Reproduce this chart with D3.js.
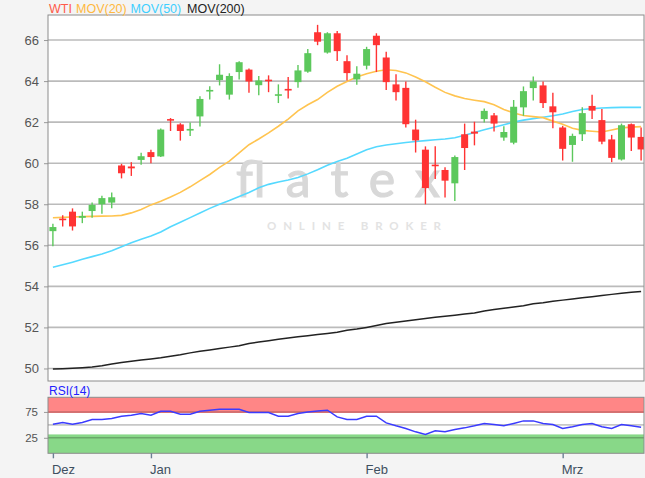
<!DOCTYPE html>
<html><head><meta charset="utf-8">
<script src="https://cdn.jsdelivr.net/npm/d3@7"></script>
<style>html,body{margin:0;padding:0;background:#f4f4f4;}svg{display:block;font-family:"Liberation Sans",Arial,sans-serif;}</style>
</head><body><svg id="c" width="645" height="478"></svg>
<script>
// ---- data ----
const opens  = [56.69,57.30,57.64,57.34,57.67,58.00,58.08,59.89,59.84,60.16,60.54,60.33,62.15,61.89,61.59,62.28,63.51,64.05,63.34,64.44,64.56,63.80,64.07,63.30,63.62,63.95,64.46,66.38,65.39,66.33,64.97,64.08,64.75,66.21,65.15,63.84,63.67,61.64,60.66,59.93,59.67,59.02,61.41,61.54,62.15,62.33,61.25,61.00,62.72,63.66,63.79,62.77,61.74,60.89,61.41,62.79,62.10,61.16,60.18,61.90,61.28];
const highs  = [57.05,57.46,57.80,57.64,58.08,58.41,58.57,59.97,60.05,60.51,60.66,61.69,62.20,61.95,61.98,63.26,63.75,64.82,64.38,64.97,64.61,64.25,64.28,63.84,64.20,64.79,65.56,66.74,66.38,66.44,65.26,64.72,65.67,66.33,65.43,64.33,63.98,62.12,60.82,60.82,59.80,60.38,61.93,62.02,62.66,62.44,61.80,63.08,63.74,64.23,63.98,63.43,61.82,61.44,62.72,63.33,62.64,61.38,61.93,61.93,61.74];
const lows   = [55.95,56.92,56.72,57.08,57.34,57.54,57.80,59.26,59.38,59.92,60.00,60.30,61.57,61.10,61.33,61.79,63.10,63.79,63.10,64.08,63.43,63.31,63.46,62.93,63.15,63.67,64.41,65.75,65.34,64.98,64.03,63.82,64.57,64.44,63.57,63.05,61.74,60.52,58.00,59.23,58.33,58.16,59.67,60.87,61.98,61.55,61.10,60.92,62.31,63.05,62.69,61.70,60.13,60.07,61.08,62.15,60.92,60.05,60.13,60.59,60.13];
const closes = [56.89,57.23,56.92,57.43,57.97,58.30,58.34,59.51,59.75,60.34,60.30,61.64,62.10,61.57,61.67,63.13,63.57,64.31,64.25,64.92,63.98,64.03,64.00,63.36,63.54,64.52,65.36,65.92,66.33,65.46,64.39,64.36,65.56,65.75,63.95,63.46,61.90,61.11,58.79,59.87,59.15,60.30,60.74,61.44,62.55,61.93,61.52,62.75,63.51,63.98,62.93,62.48,60.70,61.33,62.44,62.56,61.05,60.26,61.85,61.25,60.67];
const mov20  = [57.34,57.36,57.38,57.40,57.41,57.42,57.43,57.46,57.58,57.75,57.97,58.15,58.35,58.58,58.85,59.15,59.45,59.80,60.10,60.50,60.90,61.18,61.48,61.80,62.15,62.55,62.85,63.10,63.45,63.75,63.98,64.20,64.36,64.48,64.55,64.52,64.40,64.20,63.97,63.70,63.45,63.28,63.15,63.07,63.00,62.85,62.62,62.45,62.32,62.27,62.22,62.05,61.90,61.70,61.60,61.56,61.52,61.62,61.72,61.76,61.78];
const mov50  = [54.93,55.05,55.18,55.32,55.45,55.58,55.73,55.93,56.12,56.30,56.45,56.65,56.90,57.12,57.35,57.57,57.80,58.00,58.18,58.38,58.57,58.80,58.97,59.08,59.18,59.30,59.48,59.68,59.90,60.08,60.24,60.45,60.66,60.80,60.89,60.95,61.01,61.06,61.10,61.14,61.18,61.24,61.36,61.50,61.63,61.75,61.87,62.00,62.10,62.17,62.24,62.31,62.40,62.52,62.62,62.66,62.69,62.71,62.72,62.72,62.72];
const mov200 = [49.97,49.99,50.01,50.04,50.07,50.13,50.22,50.29,50.35,50.41,50.46,50.52,50.60,50.67,50.76,50.84,50.90,50.97,51.04,51.11,51.22,51.29,51.35,51.42,51.48,51.54,51.60,51.65,51.70,51.76,51.86,51.92,52.00,52.09,52.19,52.25,52.31,52.37,52.43,52.49,52.54,52.59,52.65,52.70,52.80,52.87,52.93,53.00,53.06,53.15,53.20,53.27,53.33,53.39,53.45,53.50,53.56,53.61,53.66,53.71,53.75];
const rsi14  = [51.3,54.6,51.3,54.6,60.3,60.3,62.3,66.7,68.6,71.9,68.6,76.3,76.3,70.6,70.6,76.3,78.3,80.2,80.2,80.2,73.8,73.8,73.8,66.7,66.7,71.9,75.0,76.9,78.3,65.4,60.4,60.4,66.7,66.7,53.8,48.1,43.0,36.5,31.5,38.5,36.5,41.2,44.2,48.1,52.7,50.5,48.1,52.7,57.7,57.7,52.7,50.5,43.0,46.3,50.5,52.7,46.3,43.0,50.5,48.1,45.6];
const monthLabels   = ["Dez","Jan","Feb","Mrz"];
const monthStartIdx = [0,10,32,52];
const priceTicks = [50,52,54,56,58,60,62,64,66];
const rsiLabelTicks = [25,75];
const rsiGridTicks  = [25,50,75];
const legendNames  = ["WTI","MOV(20)","MOV(50)","MOV(200)"];

// ---- layout ----
const svg = d3.select("#c");
const L = 48, R = 644, T = 15, B = 381;
const rT = 397.3, rB = 453.3;
const n = closes.length;
const idx = d3.range(n);

svg.append("rect").attr("width",645).attr("height",478).attr("fill","#f4f4f4");

const x = d3.scalePoint().domain(idx).range([52.9, 641.1]);
const bw = 7;
const y = d3.scaleLinear().domain([49.39, 67.22]).range([B, T]);
const yr = d3.scaleLinear().domain([-5, 103.3]).range([rB, rT]);

svg.append("defs").append("clipPath").attr("id","clipMain")
  .append("rect").attr("x",L).attr("y",T).attr("width",R-L).attr("height",B-T);

// main panel
svg.append("rect").attr("x",L).attr("y",T).attr("width",R-L).attr("height",B-T)
  .attr("fill","#fff");

// grid + left axis
const yAxis = d3.axisLeft(y).tickValues(priceTicks).tickSize(4).tickPadding(5);
const gy = svg.append("g").attr("transform",`translate(${L},0)`).call(yAxis);
gy.select(".domain").remove();
gy.selectAll(".tick line").attr("stroke","#999");
gy.selectAll(".tick text").attr("fill","#555").attr("font-size","13px")
  .attr("font-family","Liberation Sans, Arial, sans-serif");
svg.append("g").selectAll("line").data(priceTicks).join("line")
  .attr("x1",L).attr("x2",R).attr("y1",d=>y(d)).attr("y2",d=>y(d))
  .attr("stroke","#bbbbbb").attr("stroke-width",1.6);

// watermark
svg.append("text").attr("x",236).attr("y",197).text("flatex")
  .attr("font-family","Lato, sans-serif").attr("font-weight",400).attr("font-size","50px")
  .attr("textLength",204).attr("lengthAdjust","spacing")
  .attr("fill","#d8d8d8").attr("stroke","#d8d8d8").attr("stroke-width",1.2);
svg.append("text").attr("x",267).attr("y",230).text("ONLINE BROKER")
  .attr("font-family","Lato, sans-serif").attr("font-size","11.5px").attr("font-weight",700)
  .attr("textLength",174).attr("lengthAdjust","spacing").attr("fill","#e3e3e3");

const gMain = svg.append("g").attr("clip-path","url(#clipMain)");

// moving averages
const line = arr => d3.line().x((d,i)=>x(i)).y(d=>y(d)).curve(d3.curveLinear)(arr);
gMain.append("path").attr("d",line(mov200)).attr("fill","none").attr("stroke","#222").attr("stroke-width",1.5);
gMain.append("path").attr("d",line(mov50)).attr("fill","none").attr("stroke","#55d9ff").attr("stroke-width",1.6);
gMain.append("path").attr("d",line(mov20)).attr("fill","none").attr("stroke","#ffc450").attr("stroke-width",1.6);

// candles
const up = "#5cc85c", down = "#ff3333";
const cg = gMain.append("g").selectAll("g").data(idx).join("g");
cg.append("line").attr("x1",i=>x(i)).attr("x2",i=>x(i))
  .attr("y1",i=>y(highs[i])).attr("y2",i=>y(lows[i]))
  .attr("stroke",i=>closes[i]>=opens[i]?up:down).attr("stroke-width",1.4);
cg.append("rect").attr("x",i=>x(i)-bw/2).attr("width",bw)
  .attr("y",i=>y(Math.max(opens[i],closes[i])))
  .attr("height",i=>Math.max(1.6, Math.abs(y(opens[i])-y(closes[i]))))
  .attr("fill",i=>closes[i]>=opens[i]?up:down);

// main frame
svg.append("rect").attr("x",L).attr("y",T).attr("width",R-L).attr("height",B-T)
  .attr("fill","none").attr("stroke","#8c8c8c").attr("stroke-width",1);

// legend
const legendColors = ["#ff5a4a","#ffb840","#3fcfff","#222"];
const legendX = [49,76,130.5,187];
svg.append("g").selectAll("text").data(legendNames).join("text")
  .attr("x",(d,i)=>legendX[i]).attr("y",12.5).text(d=>d)
  .attr("fill",(d,i)=>legendColors[i]).attr("font-size","12.5px");

// ---- RSI panel ----
svg.append("rect").attr("x",L).attr("y",rT).attr("width",R-L).attr("height",rB-rT).attr("fill","#fff");
svg.append("rect").attr("x",L).attr("width",R-L).attr("y",rT).attr("height",yr(73)-rT).attr("fill","#ff8686");
svg.append("rect").attr("x",L).attr("width",R-L).attr("y",yr(31.5)).attr("height",rB-yr(31.5)).attr("fill","#88d888");
svg.append("g").selectAll("line").data(rsiGridTicks).join("line")
  .attr("x1",L).attr("x2",R).attr("y1",d=>yr(d)).attr("y2",d=>yr(d))
  .attr("stroke","rgba(0,0,0,0.22)").attr("stroke-width",1.6);
const ryAxis = d3.axisLeft(yr).tickValues(rsiLabelTicks).tickSize(4).tickPadding(6);
const gry = svg.append("g").attr("transform",`translate(${L},0)`).call(ryAxis);
gry.select(".domain").remove();
gry.selectAll(".tick line").attr("stroke","#999");
gry.selectAll(".tick text").attr("fill","#555").attr("font-size","11.5px")
  .attr("font-family","Liberation Sans, Arial, sans-serif");
svg.append("path").attr("d",d3.line().x((d,i)=>x(i)).y(d=>yr(d))(rsi14))
  .attr("fill","none").attr("stroke","#3b3bff").attr("stroke-width",1.5);
svg.append("rect").attr("x",L).attr("y",rT).attr("width",R-L).attr("height",rB-rT)
  .attr("fill","none").attr("stroke","#8c8c8c").attr("stroke-width",1);
svg.append("text").attr("x",49).attr("y",395).text("RSI(14)")
  .attr("fill","#2222ff").attr("font-size","12px");

// x axis (month ticks)
const xAxis = d3.axisBottom(x).tickValues(monthStartIdx)
  .tickFormat(i=>monthLabels[monthStartIdx.indexOf(i)]).tickSize(5).tickPadding(6);
const gx = svg.append("g").attr("transform",`translate(0,${rB})`).call(xAxis);
gx.select(".domain").remove();
gx.selectAll(".tick line").attr("stroke","#6b7f93").attr("stroke-width",1.4);
gx.selectAll(".tick text").attr("text-anchor","start").attr("dx","-1.5")
  .attr("fill","#3e4f60").attr("font-size","13px")
  .attr("font-family","Liberation Sans, Arial, sans-serif");
</script></body></html>
